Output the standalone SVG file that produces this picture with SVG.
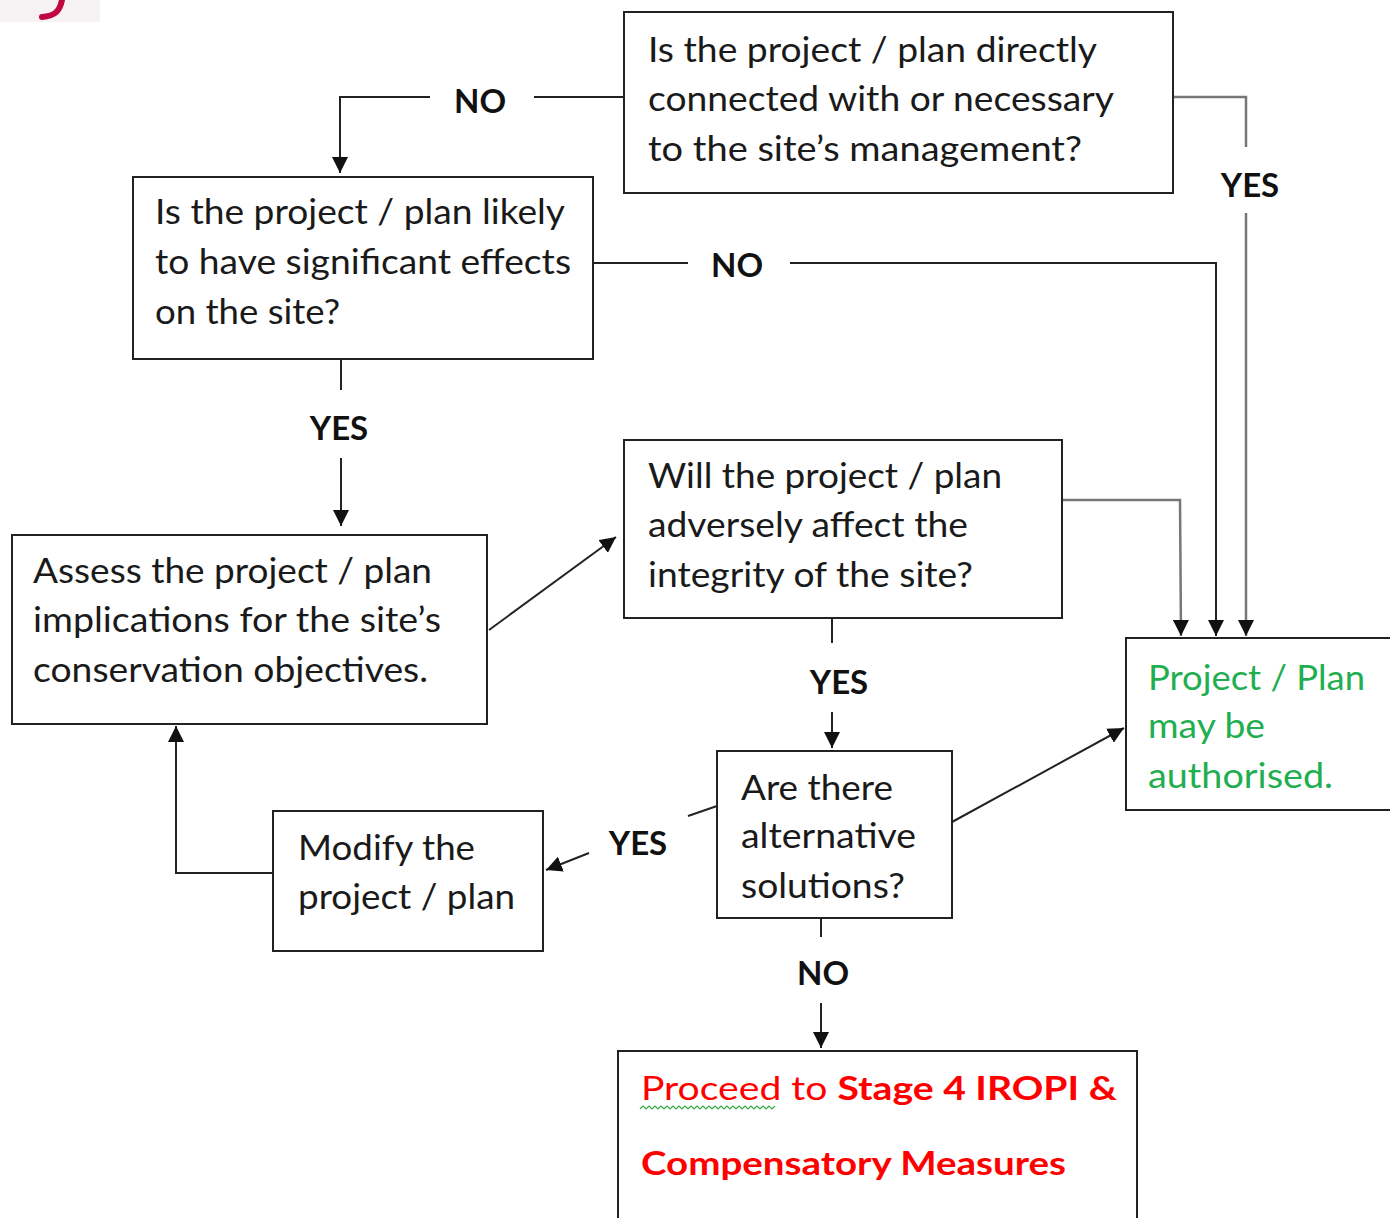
<svg xmlns="http://www.w3.org/2000/svg" width="1390" height="1218" viewBox="0 0 1390 1218">
<style>
.box{fill:#fff;stroke:#222;stroke-width:2}
.t{font-family:Lato,"Open Sans","DejaVu Sans",sans-serif;font-size:34px;fill:#1a1a1a}
.g{fill:#1fae50}
.lb{font-family:Lato,"Open Sans","DejaVu Sans",sans-serif;font-size:33px;font-weight:bold;fill:#111;text-anchor:middle}
.r{font-family:Lato,"Open Sans","DejaVu Sans",sans-serif;font-size:33px;fill:#ff0000}
.c{fill:none;stroke:#222;stroke-width:2}
.cg{fill:none;stroke:#777;stroke-width:2.5}
</style>
<defs>
<marker id="ah" markerUnits="userSpaceOnUse" markerWidth="16" markerHeight="16" refX="14" refY="7" orient="auto" viewBox="0 0 14 14">
<path d="M0,0 L14,7 L0,14 z" fill="#111"/>
</marker>
</defs>
<rect width="1390" height="1218" fill="#fff"/>
<rect x="0" y="0" width="100" height="22" fill="#f6f2f3"/>
<path d="M62,0 C60,10 56,16 42,17" fill="none" stroke="#c0073f" stroke-width="6" stroke-linecap="round"/>

<g id="connectors">
<polyline class="c" points="624,97 534,97"/>
<polyline class="c" points="430,97 340,97 340,173" marker-end="url(#ah)"/>
<polyline class="cg" points="1173,97 1246,97 1246,147"/>
<polyline class="cg" points="1246,213 1246,636" marker-end="url(#ah)"/>
<polyline class="c" points="593,263 688,263"/>
<polyline class="c" points="790,263 1216,263 1216,636" marker-end="url(#ah)"/>
<polyline class="c" points="341,359 341,390"/>
<polyline class="c" points="341,458 341,526" marker-end="url(#ah)"/>
<polyline class="c" points="489,630 616,537" marker-end="url(#ah)"/>
<polyline class="cg" points="1062,500 1180,500 1181,636" marker-end="url(#ah)"/>
<polyline class="c" points="832,618 832,643"/>
<polyline class="c" points="832,712 832,748" marker-end="url(#ah)"/>
<polyline class="c" points="952,822 1124,728" marker-end="url(#ah)"/>
<polyline class="c" points="717,806 688,816"/>
<polyline class="c" points="589,853 546,870" marker-end="url(#ah)"/>
<polyline class="c" points="273,873 176,873 176,726" marker-end="url(#ah)"/>
<polyline class="c" points="821,918 821,937"/>
<polyline class="c" points="821,1003 821,1048" marker-end="url(#ah)"/>
</g>

<g id="labels">
<text class="lb" x="480" y="113">NO</text>
<text class="lb" x="1250" y="197">YES</text>
<text class="lb" x="737" y="277">NO</text>
<text class="lb" x="339" y="440">YES</text>
<text class="lb" x="839" y="694">YES</text>
<text class="lb" x="638" y="855">YES</text>
<text class="lb" x="823" y="985">NO</text>
</g>

<g id="n1">
<rect class="box" x="624" y="12" width="549" height="181"/>
<text class="t" x="648" y="62" textLength="449" lengthAdjust="spacingAndGlyphs">Is the project / plan directly</text>
<text class="t" x="648" y="111" textLength="466" lengthAdjust="spacingAndGlyphs">connected with or necessary</text>
<text class="t" x="648" y="161" textLength="434" lengthAdjust="spacingAndGlyphs">to the site’s management?</text>
</g>

<g id="n2">
<rect class="box" x="133" y="177" width="460" height="182"/>
<text class="t" x="155" y="224" textLength="410" lengthAdjust="spacingAndGlyphs">Is the project / plan likely</text>
<text class="t" x="155" y="274" textLength="416" lengthAdjust="spacingAndGlyphs">to have significant effects</text>
<text class="t" x="155" y="324" textLength="185" lengthAdjust="spacingAndGlyphs">on the site?</text>
</g>

<g id="n3">
<rect class="box" x="12" y="535" width="475" height="189"/>
<text class="t" x="33" y="583" textLength="399" lengthAdjust="spacingAndGlyphs">Assess the project / plan</text>
<text class="t" x="33" y="632" textLength="408" lengthAdjust="spacingAndGlyphs">implications for the site’s</text>
<text class="t" x="33" y="682" textLength="395" lengthAdjust="spacingAndGlyphs">conservation objectives.</text>
</g>

<g id="n4">
<rect class="box" x="624" y="440" width="438" height="178"/>
<text class="t" x="648" y="488" textLength="354" lengthAdjust="spacingAndGlyphs">Will the project / plan</text>
<text class="t" x="648" y="537" textLength="320" lengthAdjust="spacingAndGlyphs">adversely affect the</text>
<text class="t" x="648" y="587" textLength="325" lengthAdjust="spacingAndGlyphs">integrity of the site?</text>
</g>

<g id="n5">
<rect class="box" x="1126" y="638" width="270" height="172"/>
<text class="t g" x="1148" y="690" textLength="217" lengthAdjust="spacingAndGlyphs">Project / Plan</text>
<text class="t g" x="1148" y="738" textLength="117" lengthAdjust="spacingAndGlyphs">may be</text>
<text class="t g" x="1148" y="788" textLength="185" lengthAdjust="spacingAndGlyphs">authorised.</text>
</g>

<g id="n6">
<rect class="box" x="717" y="751" width="235" height="167"/>
<text class="t" x="741" y="800" textLength="152" lengthAdjust="spacingAndGlyphs">Are there</text>
<text class="t" x="741" y="848" textLength="175" lengthAdjust="spacingAndGlyphs">alternative</text>
<text class="t" x="741" y="898" textLength="164" lengthAdjust="spacingAndGlyphs">solutions?</text>
</g>

<g id="n7">
<rect class="box" x="273" y="811" width="270" height="140"/>
<text class="t" x="298" y="860" textLength="177" lengthAdjust="spacingAndGlyphs">Modify the</text>
<text class="t" x="298" y="909" textLength="217" lengthAdjust="spacingAndGlyphs">project / plan</text>
</g>

<g id="n8">
<rect class="box" x="618" y="1051" width="519" height="180"/>
<text class="r" x="641" y="1100" textLength="476" lengthAdjust="spacingAndGlyphs">Proceed  to <tspan font-weight="bold">Stage 4 IROPI &amp;</tspan></text>
<path d="M640,1109 l3,-3 l3,3 l3,-3 l3,3 l3,-3 l3,3 l3,-3 l3,3 l3,-3 l3,3 l3,-3 l3,3 l3,-3 l3,3 l3,-3 l3,3 l3,-3 l3,3 l3,-3 l3,3 l3,-3 l3,3 l3,-3 l3,3 l3,-3 l3,3 l3,-3 l3,3 l3,-3 l3,3 l3,-3 l3,3 l3,-3 l3,3 l3,-3 l3,3 l3,-3 l3,3 l3,-3 l3,3 l3,-3 l3,3 l3,-3 l3,3 l3,-3" fill="none" stroke="#3aa845" stroke-width="1.2"/>
<text class="r" x="641" y="1175" font-weight="bold" textLength="425" lengthAdjust="spacingAndGlyphs">Compensatory Measures</text>
</g>
</svg>
